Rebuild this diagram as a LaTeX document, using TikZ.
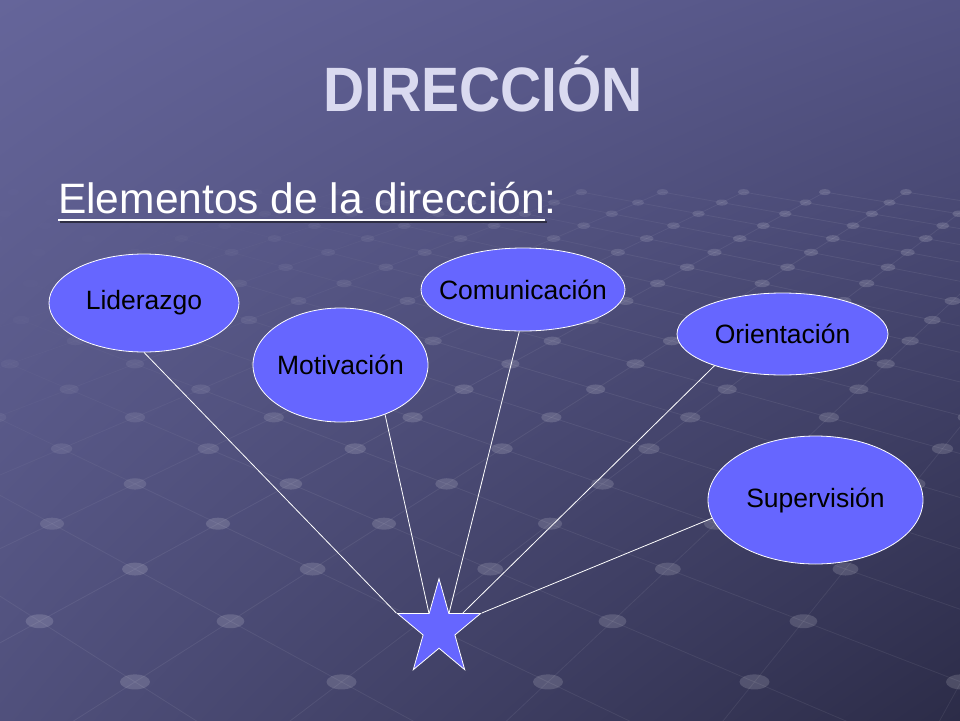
\documentclass[tikz,border=0pt]{standalone}
\usepackage{fontspec}
\setmainfont{Liberation Sans}
\usetikzlibrary{shapes.geometric,calc,shadings}
\definecolor{bgUL}{HTML}{65659A}
\definecolor{bgUR}{HTML}{545485}
\definecolor{bgLL}{HTML}{50507C}
\definecolor{bgLR}{HTML}{2C2C48}
\definecolor{nodefill}{HTML}{6666FF}
\definecolor{titlec}{HTML}{DADAF0}
\definecolor{shadowc}{HTML}{2E2E44}
\newlength{\ulwidth}
\begin{document}
\settowidth{\ulwidth}{\fontsize{42.5}{46}\selectfont Elementos de la dirección}%
\begin{tikzpicture}[x=1pt,y=-1pt,
  elem/.style={ellipse, draw=white, line width=0.8pt, fill=nodefill, inner sep=0pt},
  lbl/.style={font=\fontsize{26.5}{30}\selectfont, text=black, inner sep=0pt},
  conn/.style={draw=white, line width=0.8pt},
  titlefont/.style={font=\bfseries\fontsize{57}{60}\selectfont, inner sep=0pt, anchor=base},
  subfont/.style={font=\fontsize{42.5}{46}\selectfont, inner sep=0pt}]
\useasboundingbox (0,0) rectangle (960,720);
\clip (0,0) rectangle (960,720);
\shade[upper left=bgUL, upper right=bgUR, lower left=bgLL, lower right=bgLR] (0,0) rectangle (960,720);

% perspective grid of the background (fades towards the upper left)
\foreach \i in {-10,...,14} {
  \foreach \k in {-15,...,5} {
    \pgfmathsetmacro\xa{135+1270*((2*\i-\k)/(16.3-\k))}
    \pgfmathsetmacro\ya{-125+9925/(16.3-\k)}
    \pgfmathsetmacro\xb{135+1270*((2*\i-\k-1)/(15.3-\k))}
    \pgfmathsetmacro\yb{-125+9925/(15.3-\k)}
    \pgfmathsetmacro\op{0.07*min(1,max(0.08,(0.5*(\xa+\xb)+(\ya+\yb)-550)/700))}
    \draw[white, opacity=\op, line width=0.8pt] (\xa,\ya) -- (\xb,\yb);
  }
}
\foreach \j in {-8,...,20} {
  \foreach \k in {-15,...,5} {
    \pgfmathsetmacro\xa{135+1270*((2*\j+\k)/(16.3-\k))}
    \pgfmathsetmacro\ya{-125+9925/(16.3-\k)}
    \pgfmathsetmacro\xb{135+1270*((2*\j+\k+1)/(15.3-\k))}
    \pgfmathsetmacro\yb{-125+9925/(15.3-\k)}
    \pgfmathsetmacro\op{0.07*min(1,max(0.08,(0.5*(\xa+\xb)+(\ya+\yb)-550)/700))}
    \draw[white, opacity=\op, line width=0.8pt] (\xa,\ya) -- (\xb,\yb);
  }
}
\foreach \k in {-15,...,6} {
  \pgfmathsetmacro\den{16.3-\k}
  \pgfmathsetmacro\yy{-125+9925/\den}
  \pgfmathsetmacro\rx{185/\den}
  \pgfmathsetmacro\ry{0.5*\rx}
  \pgfmathtruncatemacro\pty{abs(mod(\k,2))}
  \foreach \m in {-5,...,13} {
    \pgfmathsetmacro\xx{135+1270*((2*\m+\pty)/\den)}
    \pgfmathsetmacro\op{0.15*min(1,max(0.08,(\xx+2*\yy-550)/700))}
    \fill[white, opacity=\op] (\xx,\yy) ellipse [x radius=\rx pt, y radius=\ry pt];
  }
}

% title
\node[titlefont, text=titlec] (title) at (483,111) {\scalebox{1}[1.1]{DIRECCIÓN}};

% subtitle
\node[subfont, text=white, anchor=base west] (sub) at (58,213) {Elementos de la dirección:};
\draw[shadowc, line width=2.5pt] ($(sub.base west)+(2pt,-9pt)$) -- ($(sub.base west)+(\ulwidth+2pt,-9pt)$);
\draw[white, line width=2.5pt] ($(sub.base west)+(0pt,-7pt)$) -- ($(sub.base west)+(\ulwidth,-7pt)$);

% elements
\node[elem, minimum width=190pt, minimum height=98pt, label={[lbl]center:Liderazgo}] (lid) at (144,303) {};
\node[elem, minimum width=175pt, minimum height=114pt, label={[lbl]center:Motivación}] (mot) at (340.5,365) {};
\node[elem, minimum width=204pt, minimum height=83pt, label={[lbl]center:Comunicación}] (com) at (523,289.5) {};
\node[elem, minimum width=211pt, minimum height=82pt, label={[lbl]center:Orientación}] (ori) at (782.5,334) {};
\node[elem, minimum width=215pt, minimum height=128pt, label={[lbl]center:Supervisión}] (sup) at (815.5,500) {};

% star
\begin{scope}[shift={(439,629)}, xscale=0.87]
  \node[star, star points=5, star point ratio=2.618, minimum size=100.6pt, inner sep=0pt,
        draw=white, line width=0.8pt, fill=nodefill, transform shape] (star) at (0,0) {};
\end{scope}

% connectors
\draw[conn] (lid.south) -- (star.outer point 2);
\draw[conn] (mot.-48) -- (star.inner point 1);
\draw[conn] (com.-95) -- (star.inner point 5);
\draw[conn] (ori.-155) -- ($(star.inner point 5)!0.42!(star.outer point 5)$);
\draw[conn] (sup.190) -- (star.outer point 5);
\end{tikzpicture}
\end{document}
